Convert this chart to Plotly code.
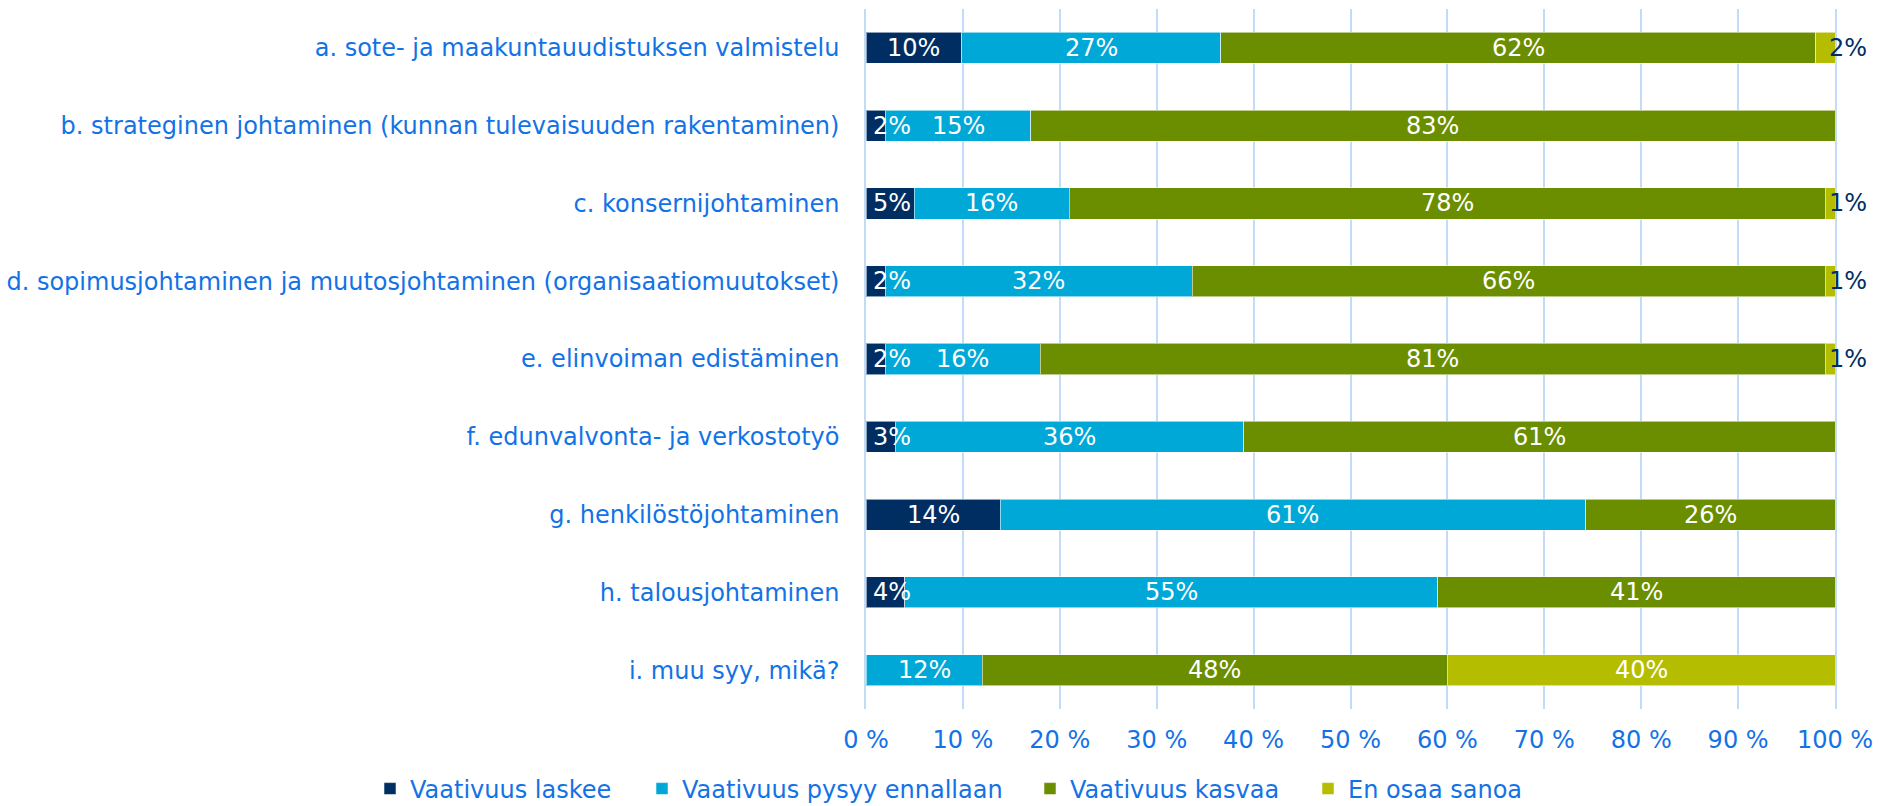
import plotly.graph_objects as go

categories = [
    "a. sote- ja maakuntauudistuksen valmistelu",
    "b. strateginen johtaminen (kunnan tulevaisuuden rakentaminen)",
    "c. konsernijohtaminen",
    "d. sopimusjohtaminen ja muutosjohtaminen (organisaatiomuutokset)",
    "e. elinvoiman edistäminen",
    "f. edunvalvonta- ja verkostotyö",
    "g. henkilöstöjohtaminen",
    "h. talousjohtaminen",
    "i. muu syy, mikä?",
]
series_names = ["Vaativuus laskee", "Vaativuus pysyy ennallaan", "Vaativuus kasvaa", "En osaa sanoa"]
laskee = [10, 2, 5, 2, 2, 3, 14, 4, 0]
pysyy = [27, 15, 16, 32, 16, 36, 61, 55, 12]
kasvaa = [62, 83, 78, 66, 81, 61, 26, 41, 48]
en_osaa = [2, 0, 1, 1, 1, 0, 0, 0, 40]
tick_vals = [0, 10, 20, 30, 40, 50, 60, 70, 80, 90, 100]
tick_text = [f"{v} %" for v in tick_vals]

series = [laskee, pysyy, kasvaa, en_osaa]
colors = ["#002E63", "#00A8D8", "#6B8E00", "#B5BD00"]
TEXT_BLUE = "#1272E6"
GRID = "#C2DBF6"
FONT = "DejaVu Sans"
W, H = 1879, 806
legend_ids = ["legend", "legend2", "legend3", "legend4"]
legend_left_px = [370, 642, 1030, 1308]

fig = go.Figure()
for name, vals, col, lid in zip(series_names, series, colors, legend_ids):
    fig.add_trace(go.Bar(
        orientation="h", y=categories, x=vals, name=name, legend=lid, showlegend=True,
        marker=dict(color=col, line=dict(width=1, color="rgba(255,255,255,0.55)")),
        hovertemplate="%{y}<br>" + name + ": %{x}%<extra></extra>",
    ))

annotations = []
for r, cat in enumerate(categories):
    row = [s[r] for s in series]
    total = sum(row)
    cum = 0.0
    for k, v in enumerate(row):
        if v <= 0:
            continue
        share = v / total * 100
        center = cum + share / 2
        last = k == len(row) - 1
        if last and share < 3:
            annotations.append(dict(
                x=min(cum + share, 100.0), y=cat, xref="x", yref="y", text=f"{v}%",
                showarrow=False, xanchor="left", xshift=-8,
                font=dict(family=FONT, size=24, color="#002E63")))
        else:
            if k == 0 and center < 2.7:
                center = 2.7
            annotations.append(dict(
                x=center, y=cat, xref="x", yref="y", text=f"{v}%",
                showarrow=False, xanchor="center",
                font=dict(family=FONT, size=24, color="white")))
        cum += share

legends = {}
for lid, left in zip(legend_ids, legend_left_px):
    legends[lid] = dict(orientation="h", xref="container", yref="container",
                        x=left / W, xanchor="left", y=(H - 789) / H, yanchor="middle",
                        font=dict(family=FONT, size=24, color=TEXT_BLUE),
                        itemwidth=30, bgcolor="rgba(0,0,0,0)", visible=True)

fig.update_layout(
    width=W, height=H, showlegend=True,
    barmode="stack", barnorm="percent", bargap=0.60,
    paper_bgcolor="white", plot_bgcolor="white",
    margin=dict(l=866, r=44, t=9, b=97),
    font=dict(family=FONT, size=24, color=TEXT_BLUE),
    xaxis=dict(range=[0, 100], tickmode="array", tickvals=tick_vals, ticktext=tick_text,
               showgrid=True, gridcolor=GRID, gridwidth=1.5,
               zeroline=False, showline=False, ticks="",
               ticklabelstandoff=14, automargin=False,
               tickfont=dict(family=FONT, size=24, color=TEXT_BLUE)),
    yaxis=dict(categoryorder="array", categoryarray=categories, autorange="reversed",
               showgrid=False, zeroline=False, showline=True, mirror=True,
               linecolor=GRID, linewidth=1.5, ticks="",
               automargin=False, ticklabelstandoff=20,
               tickfont=dict(family=FONT, size=24, color=TEXT_BLUE)),
    annotations=annotations,
    **legends,
)

fig.write_html("out.html", post_script="document.body.style.margin='0';",
               config={"displayModeBar": False})
